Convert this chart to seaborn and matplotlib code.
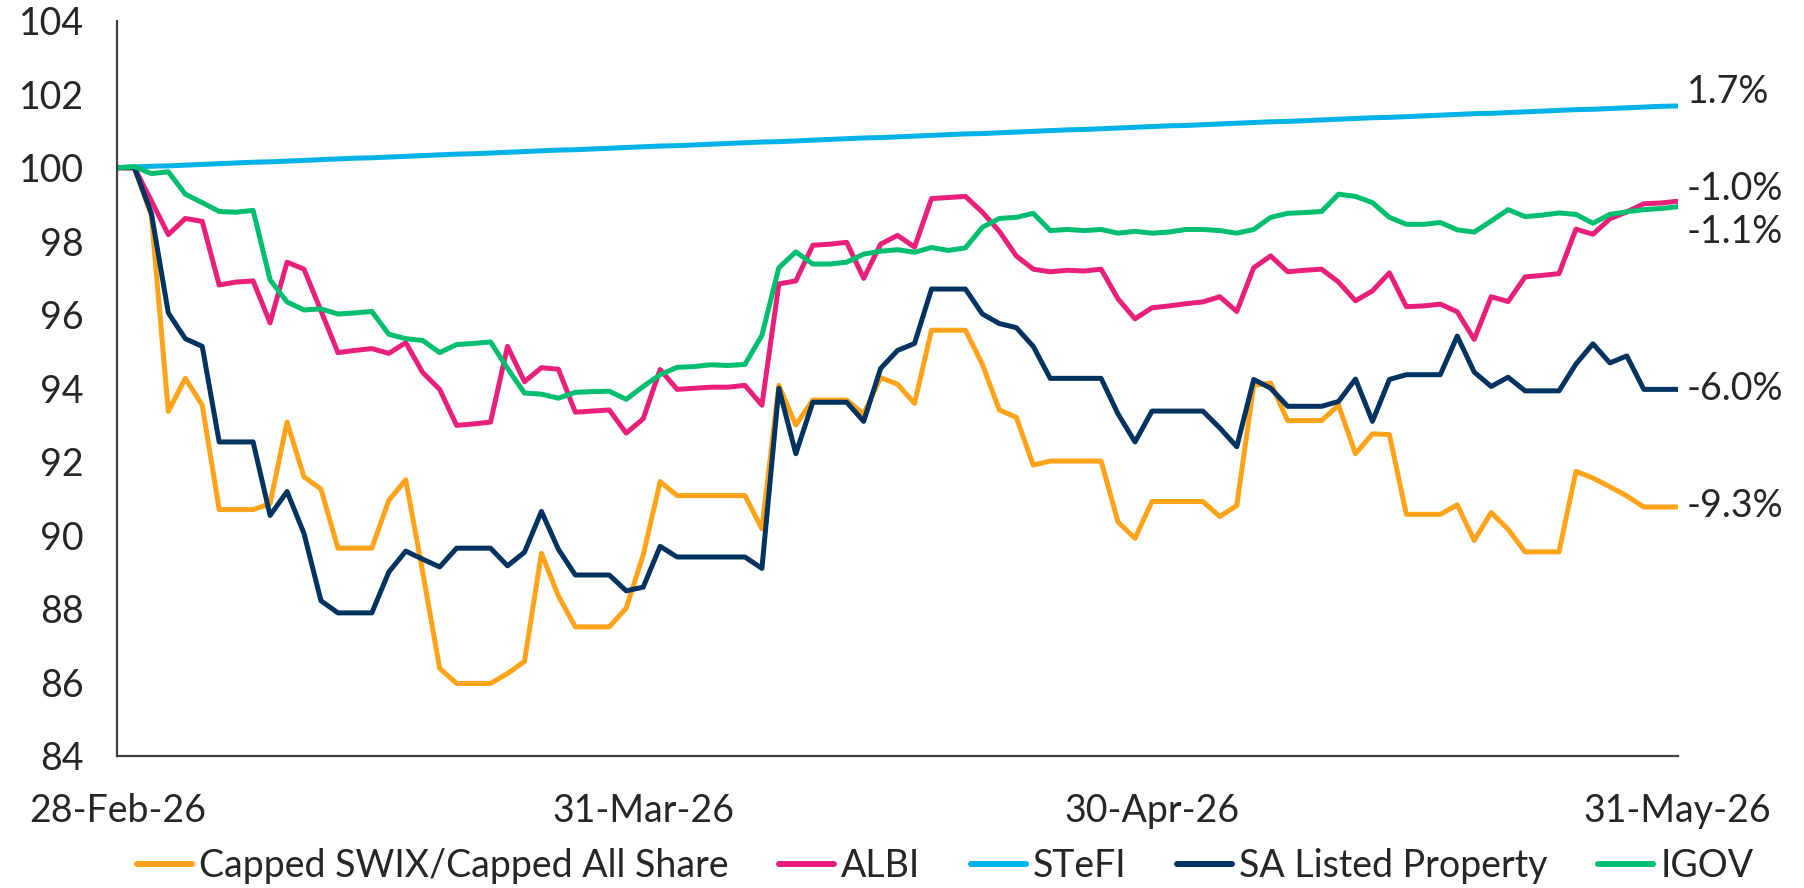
import matplotlib
matplotlib.use("Agg")
import matplotlib.pyplot as plt
import matplotlib.transforms as mtransforms
import matplotlib.dates as mdates
from matplotlib.lines import Line2D
import seaborn as sns
import pandas as pd

# daily index levels (rebased to 100), 28-Feb-26 .. 31-May-26
dates = pd.date_range("2026-02-28", "2026-05-31", freq="D")

swix = [100.00, 100.00, 98.70, 93.37, 94.27, 93.54, 90.70,
        90.70, 90.70, 90.86, 93.08, 91.59, 91.26, 89.65,
        89.65, 89.65, 90.95, 91.51, 89.00, 86.38, 85.97,
        85.97, 85.97, 86.24, 86.57, 89.51, 88.35, 87.51,
        87.51, 87.51, 88.02, 89.46, 91.46, 91.08, 91.08,
        91.08, 91.08, 91.08, 90.18, 94.08, 93.00, 93.68,
        93.68, 93.68, 93.30, 94.29, 94.11, 93.59, 95.58,
        95.58, 95.58, 94.65, 93.41, 93.21, 91.91, 92.02,
        92.02, 92.02, 92.02, 90.36, 89.92, 90.92, 90.92,
        90.92, 90.92, 90.51, 90.81, 94.08, 94.14, 93.12,
        93.12, 93.12, 93.54, 92.22, 92.76, 92.74, 90.57,
        90.57, 90.57, 90.83, 89.86, 90.62, 90.16, 89.55,
        89.55, 89.55, 91.74, 91.56, 91.32, 91.07, 90.77,
        90.77, 90.77]

albi = [100.00, 100.00, 99.10, 98.18, 98.62, 98.54, 96.81,
        96.89, 96.92, 95.78, 97.43, 97.24, 96.11, 94.97,
        95.03, 95.08, 94.95, 95.24, 94.43, 93.97, 92.99,
        93.03, 93.08, 95.14, 94.18, 94.56, 94.52, 93.35,
        93.38, 93.41, 92.78, 93.17, 94.51, 93.97, 94.00,
        94.03, 94.03, 94.08, 93.54, 96.84, 96.92, 97.89,
        97.92, 97.97, 96.99, 97.92, 98.16, 97.84, 99.16,
        99.19, 99.22, 98.79, 98.27, 97.60, 97.24, 97.17,
        97.21, 97.19, 97.24, 96.43, 95.89, 96.19, 96.24,
        96.30, 96.35, 96.49, 96.09, 97.28, 97.60, 97.17,
        97.21, 97.24, 96.89, 96.38, 96.65, 97.14, 96.22,
        96.24, 96.29, 96.08, 95.33, 96.49, 96.36, 97.03,
        97.07, 97.12, 98.33, 98.19, 98.61, 98.80, 99.02,
        99.04, 99.09]

stefi = [100.00, 100.02, 100.04, 100.05, 100.07, 100.09, 100.11,
         100.13, 100.15, 100.16, 100.18, 100.20, 100.22, 100.24,
         100.26, 100.27, 100.29, 100.31, 100.33, 100.35, 100.37,
         100.38, 100.40, 100.42, 100.44, 100.46, 100.48, 100.49,
         100.51, 100.53, 100.55, 100.57, 100.59, 100.60, 100.62,
         100.64, 100.66, 100.68, 100.70, 100.71, 100.73, 100.75,
         100.77, 100.79, 100.81, 100.82, 100.84, 100.86, 100.88,
         100.90, 100.92, 100.93, 100.95, 100.97, 100.99, 101.01,
         101.03, 101.04, 101.06, 101.08, 101.10, 101.12, 101.14,
         101.15, 101.17, 101.19, 101.21, 101.23, 101.25, 101.26,
         101.28, 101.30, 101.32, 101.34, 101.36, 101.37, 101.39,
         101.41, 101.43, 101.45, 101.47, 101.48, 101.50, 101.52,
         101.54, 101.56, 101.58, 101.59, 101.61, 101.63, 101.65,
         101.67, 101.68]

property_ = [100.00, 100.00, 98.76, 96.05, 95.35, 95.14, 92.54,
             92.54, 92.54, 90.54, 91.19, 90.05, 88.22, 87.89,
             87.89, 87.89, 89.00, 89.57, 89.35, 89.14, 89.65,
             89.65, 89.65, 89.17, 89.54, 90.65, 89.62, 88.92,
             88.92, 88.92, 88.49, 88.59, 89.70, 89.41, 89.41,
             89.41, 89.41, 89.41, 89.10, 94.00, 92.22, 93.62,
             93.62, 93.62, 93.10, 94.54, 95.03, 95.22, 96.70,
             96.70, 96.70, 96.02, 95.76, 95.65, 95.14, 94.27,
             94.27, 94.27, 94.27, 93.30, 92.54, 93.38, 93.38,
             93.38, 93.38, 92.92, 92.41, 94.24, 94.00, 93.51,
             93.51, 93.51, 93.64, 94.25, 93.10, 94.24, 94.37,
             94.37, 94.37, 95.42, 94.44, 94.05, 94.30, 93.93,
             93.93, 93.93, 94.66, 95.21, 94.69, 94.88, 93.97,
             93.97, 93.97]

igov = [100.00, 100.03, 99.84, 99.89, 99.28, 99.05, 98.81,
        98.79, 98.84, 96.95, 96.35, 96.13, 96.16, 96.02,
        96.05, 96.09, 95.47, 95.35, 95.30, 94.97, 95.19,
        95.22, 95.26, 94.54, 93.87, 93.84, 93.73, 93.89,
        93.91, 93.92, 93.70, 94.05, 94.37, 94.57, 94.59,
        94.64, 94.62, 94.65, 95.44, 97.28, 97.71, 97.38,
        97.38, 97.43, 97.65, 97.73, 97.77, 97.70, 97.83,
        97.75, 97.82, 98.38, 98.62, 98.65, 98.76, 98.29,
        98.32, 98.29, 98.32, 98.22, 98.27, 98.22, 98.25,
        98.32, 98.32, 98.29, 98.22, 98.32, 98.65, 98.76,
        98.78, 98.81, 99.28, 99.22, 99.05, 98.65, 98.46,
        98.46, 98.51, 98.31, 98.25, 98.55, 98.86, 98.67,
        98.71, 98.77, 98.73, 98.49, 98.73, 98.80, 98.86,
        98.89, 98.94]

series_names = ["Capped SWIX/Capped All Share", "ALBI", "STeFI",
                "SA Listed Property", "IGOV"]
end_labels = ["-9.3%", "-1.0%", "1.7%", "-6.0%", "-1.1%"]
label_y = [90.79, 99.43, 102.05, 93.98, 98.24]
colors = ["#FFA31A", "#E8207A", "#00B2E8", "#00335F", "#00BE70"]

frames = []
for name, vals in zip(series_names, [swix, albi, stefi, property_, igov]):
    frames.append(pd.DataFrame({"Date": dates, "Value": vals, "Series": name}))
df = pd.concat(frames, ignore_index=True)

sns.set_style("white")
plt.rcParams["font.family"] = ["Lato", "DejaVu Sans"]

fig = plt.figure(figsize=(18.04, 8.88), dpi=100)
ax = fig.add_axes([0.0651, 0.1488, 0.8649, 0.8279])

sns.lineplot(data=df, x="Date", y="Value", hue="Series", hue_order=series_names,
             palette=colors, linewidth=3.6, legend=False, ax=ax, sort=False)

ax.set_xlim(dates[0], dates[-1])
ax.set_ylim(84, 104)
ax.set_yticks(range(84, 105, 2))
ax.set_xticks([pd.Timestamp("2026-02-28"), pd.Timestamp("2026-03-31"),
               pd.Timestamp("2026-04-30"), pd.Timestamp("2026-05-31")])
ax.xaxis.set_major_formatter(mdates.DateFormatter("%d-%b-%y"))
ax.set_xlabel("")
ax.set_ylabel("")

for side in ["top", "right"]:
    ax.spines[side].set_visible(False)
for side in ["left", "bottom"]:
    ax.spines[side].set_color("#404040")
    ax.spines[side].set_linewidth(1.6)
ax.tick_params(axis="both", direction="out", length=11, width=1.6,
               color="#404040", labelsize=27, labelcolor="#262626")
ax.tick_params(axis="x", pad=16)
ax.tick_params(axis="y", pad=13)

trans = mtransforms.blended_transform_factory(ax.transAxes, ax.transData)
for txt, yv in zip(end_labels, label_y):
    ax.text(1.006, yv, txt, transform=trans, ha="left", va="center",
            fontsize=27, color="#262626", clip_on=False)

handles = [Line2D([0], [0], color=c, lw=4.3, solid_capstyle="round") for c in colors]
fig.legend(handles, series_names, loc="center", bbox_to_anchor=(0.524, 0.025),
           ncol=5, frameon=False, fontsize=27, handlelength=1.45,
           handletextpad=0.2, columnspacing=1.35, labelcolor="#262626")

fig.savefig("out.png", dpi=100)
